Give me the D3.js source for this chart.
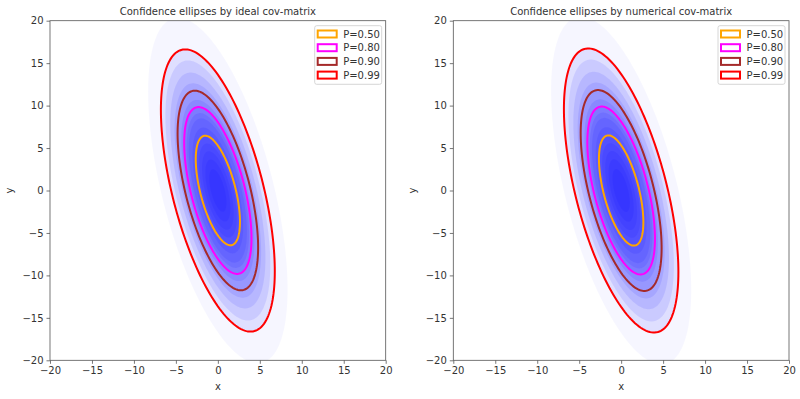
<!DOCTYPE html>
<html>
<head>
<meta charset="utf-8">
<script src="https://cdn.jsdelivr.net/npm/d3@7"></script>
<style>
  body { margin: 0; background: #fff; }
  text { font-family: "DejaVu Sans", sans-serif; }
</style>
</head>
<body>
<svg id="fig" width="800" height="399"></svg>
<script>
// chart data
var p_levels = [0.50, 0.80, 0.90, 0.99];
var level_colors = ["#ffa500", "#ff00ff", "#a52a2a", "#ff0000"];
var center_xy = [0, 0];
var cov_ideal = [[5.0, -7.0], [-7.0, 30.0]];
var cov_numerical = [[5.05, -7.1], [-7.1, 30.4]];
// probability levels used to shade the sample cloud (dense in middle, sparse outside)
var cloud_levels = [0.999, 0.99, 0.98, 0.96, 0.93, 0.9, 0.85, 0.8, 0.75, 0.7, 0.6, 0.5, 0.4, 0.3, 0.2, 0.1];
var tick_values = [-20, -15, -10, -5, 0, 5, 10, 15, 20];
var titles = ["Confidence ellipses by ideal cov-matrix", "Confidence ellipses by numerical cov-matrix"];

var svg = d3.select("#fig");
var text_color = "#333";
var spine_color = "#555";

var panels = [
    {title: titles[0], cov: cov_ideal, left: 50, right: 385.7},
    {title: titles[1], cov: cov_numerical, left: 453.3, right: 789}
];
var top_y = 20.7, bottom_y = 360.3;

var fmt = function (v) { return (v < 0 ? "\u2212" : "") + Math.abs(v); };

// ellipse outline points for chi-square (2 dof) level p
function ellipse_points(cov, p) {
    var k = Math.sqrt(-2 * Math.log(1 - p));
    // cholesky factor
    var a = Math.sqrt(cov[0][0]);
    var b = cov[1][0] / a;
    var c = Math.sqrt(cov[1][1] - b * b);
    return d3.range(0, 360, 2).map(function (deg) {
        var t = deg * Math.PI / 180;
        var u = k * Math.cos(t), v = k * Math.sin(t);
        return [center_xy[0] + a * u, center_xy[1] + b * u + c * v];
    });
}

panels.forEach(function (pn) {
    var g = svg.append("g");
    var x = d3.scaleLinear().domain([-20, 20]).range([pn.left, pn.right]);
    var y = d3.scaleLinear().domain([-20, 20]).range([bottom_y, top_y]);
    var line = d3.line().x(function (d) { return x(d[0]); }).y(function (d) { return y(d[1]); })
        .curve(d3.curveLinearClosed);

    // clip
    var clip_id = "clip" + Math.round(pn.left);
    g.append("clipPath").attr("id", clip_id).append("rect")
        .attr("x", pn.left).attr("y", top_y)
        .attr("width", pn.right - pn.left).attr("height", bottom_y - top_y);

    // sample cloud
    var cloud = g.append("g").attr("clip-path", "url(#" + clip_id + ")");
    cloud.selectAll("path.cloud")
        .data(cloud_levels)
        .enter().append("path")
        .attr("class", "cloud")
        .attr("d", function (p) { return line(ellipse_points(pn.cov, p)); })
        .attr("fill", "#0000ff")
        .attr("fill-opacity", function (p) { return p > 0.99 ? 0.035 : 0.09; })
        .attr("stroke", "none");

    // confidence ellipses
    cloud.selectAll("path.ell")
        .data(p_levels)
        .enter().append("path")
        .attr("class", "ell")
        .attr("d", function (p) { return line(ellipse_points(pn.cov, p)); })
        .attr("fill", "none")
        .attr("stroke", function (p, i) { return level_colors[i]; })
        .attr("stroke-width", 2);

    // axes
    var xa = g.append("g").attr("transform", "translate(0," + bottom_y + ")")
        .call(d3.axisBottom(x).tickValues(tick_values).tickFormat(fmt).tickSize(3.5).tickPadding(3));
    var ya = g.append("g").attr("transform", "translate(" + pn.left + ",0)")
        .call(d3.axisLeft(y).tickValues(tick_values).tickFormat(fmt).tickSize(3.5).tickPadding(3));
    [xa, ya].forEach(function (a) {
        a.select(".domain").remove();
        a.selectAll("line").attr("stroke", spine_color).attr("stroke-width", 0.8);
        a.selectAll("text").attr("fill", text_color).style("font-size", "10px")
            .style("font-family", "DejaVu Sans");
    });

    // spines
    g.append("rect")
        .attr("x", pn.left).attr("y", top_y)
        .attr("width", pn.right - pn.left).attr("height", bottom_y - top_y)
        .attr("fill", "none").attr("stroke", spine_color).attr("stroke-width", 0.8);

    // title and labels
    var mid = (pn.left + pn.right) / 2;
    g.append("text").attr("x", mid).attr("y", 15).attr("text-anchor", "middle")
        .attr("fill", text_color).style("font-size", "10px").text(pn.title);
    g.append("text").attr("x", mid).attr("y", 390).attr("text-anchor", "middle")
        .attr("fill", text_color).style("font-size", "10px").text("x");
    g.append("text").attr("transform", "translate(" + (pn.left - 37) + "," + ((top_y + bottom_y) / 2) + ") rotate(-90)")
        .attr("text-anchor", "middle").attr("fill", text_color).style("font-size", "10px").text("y");

    // legend
    var lg_x = pn.right - 71, lg_y = 25.7;
    var lg = g.append("g");
    lg.append("rect").attr("x", lg_x).attr("y", lg_y).attr("width", 67).attr("height", 58.6)
        .attr("rx", 2).attr("fill", "#fff").attr("fill-opacity", 0.8)
        .attr("stroke", "#ccc").attr("stroke-width", 0.8);
    var rows = lg.selectAll("g.row").data(p_levels).enter().append("g")
        .attr("transform", function (p, i) { return "translate(" + (lg_x + 3) + "," + (lg_y + 8.3 + i * 13.7) + ")"; });
    rows.append("rect").attr("x", 0).attr("y", -3.5).attr("width", 19).attr("height", 7)
        .attr("fill", "none").attr("stroke-width", 2)
        .attr("stroke", function (p, i) { return level_colors[i]; });
    rows.append("text").attr("x", 25.5).attr("y", 3.6).attr("fill", text_color)
        .style("font-size", "10px").text(function (p) { return "P=" + p.toFixed(2); });
});
</script>
</body>
</html>
